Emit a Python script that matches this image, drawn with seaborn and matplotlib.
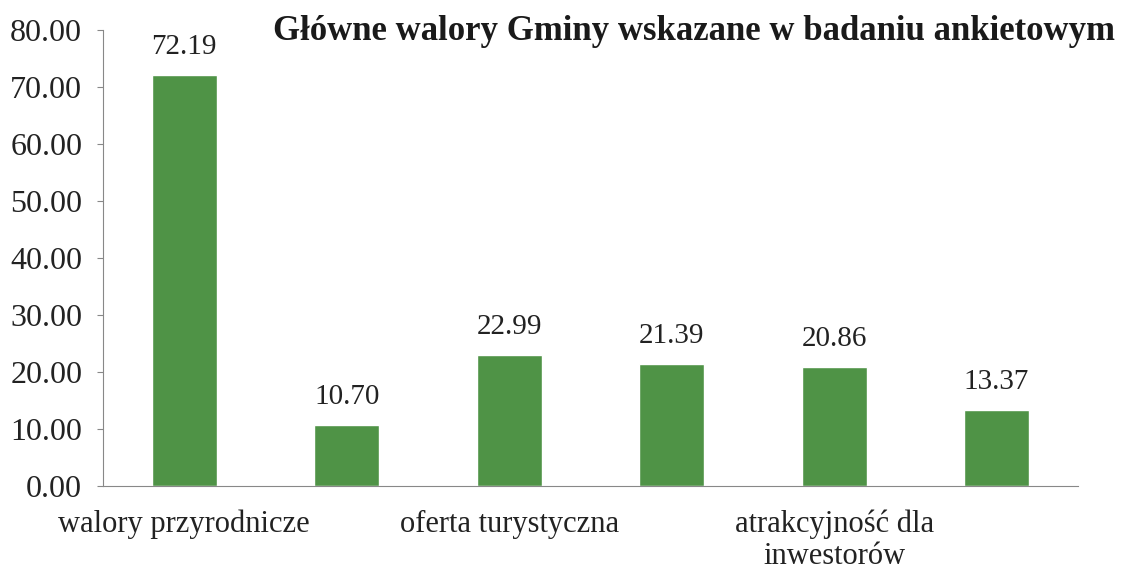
import matplotlib
matplotlib.use("Agg")
import matplotlib.pyplot as plt
import seaborn as sns
import pandas as pd
from matplotlib.ticker import FormatStrFormatter, FixedLocator

# Survey results: share of respondents pointing to each asset of the commune
positions = [0, 1, 2, 3, 4, 5]
values = [72.19, 10.70, 22.99, 21.39, 20.86, 13.37]
tick_labels = ["walory przyrodnicze", "", "oferta turystyczna", "",
               "atrakcyjność dla\ninwestorów", ""]
y_ticks = [0, 10, 20, 30, 40, 50, 60, 70, 80]
title = "Główne walory Gminy wskazane w badaniu ankietowym"

sns.set_style("white")
plt.rcParams["font.family"] = ["Liberation Serif", "DejaVu Serif"]

df = pd.DataFrame({"pos": positions, "value": values})

fig = plt.figure(figsize=(11.25, 5.73), dpi=100)
ax = fig.add_axes([0.0916, 0.1518, 0.8664, 0.795])

sns.barplot(data=df, x="pos", y="value", color="#4f9346", width=0.4,
            saturation=1, ax=ax)

ax.set_xlim(-0.5, 5.5)
ax.set_ylim(0, 80)
ax.set_xlabel("")
ax.set_ylabel("")

ax.set_yticks(y_ticks)
ax.yaxis.set_major_formatter(FormatStrFormatter("%.2f"))

ax.set_xticks(positions)
ax.set_xticklabels(tick_labels, linespacing=1.15)
ax.xaxis.set_minor_locator(FixedLocator([p - 0.5 for p in positions] + [5.5]))
ax.tick_params(axis="x", which="major", length=0, pad=17, labelsize=22,
               labelcolor="#222222")
ax.tick_params(axis="x", which="minor", length=6, width=0.8, color="#888888",
               direction="out")
ax.tick_params(axis="y", length=4, width=0.8, color="#888888", pad=11,
               labelsize=23, labelcolor="#222222", left=True)

for side in ("top", "right"):
    ax.spines[side].set_visible(False)
for side in ("left", "bottom"):
    ax.spines[side].set_color("#888888")
    ax.spines[side].set_linewidth(0.8)

for p, v in zip(positions, values):
    ax.annotate(f"{v:.2f}", xy=(p, v), xytext=(0, 11), textcoords="offset points",
                ha="center", va="bottom", fontsize=21, color="#222222")

fig.text(1115 / 1125, 1 - 31 / 573, title, ha="right", va="center",
         fontsize=25, fontweight="bold", color="#1a1a1a")

fig.savefig("out.png", dpi=100)
